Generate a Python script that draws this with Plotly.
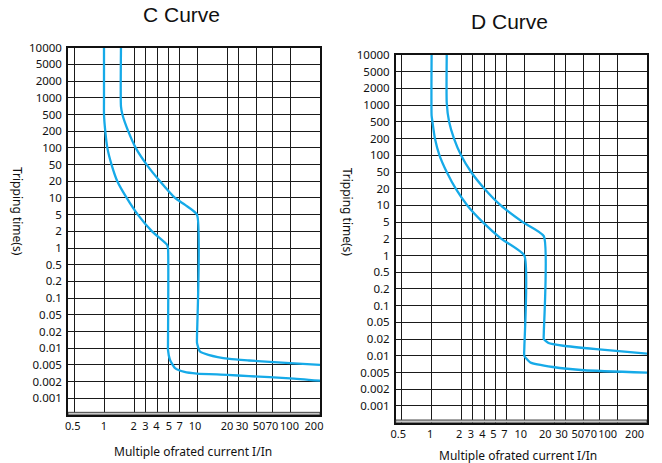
import numpy as np
import plotly.graph_objects as go

# ---- data ----
x_ticks = [0.5, 1, 2, 3, 4, 5, 7, 10, 20, 30, 50, 70, 100, 200]
x_tick_labels = ["0.5", "1", "2", "3", "4", "5", "7", "10", "20", "30", "50", "70", "100", "200"]
y_ticks = [10000, 5000, 2000, 1000, 500, 200, 100, 50, 20, 10, 5, 2, 1,
           0.5, 0.2, 0.1, 0.05, 0.02, 0.01, 0.005, 0.002, 0.001]
y_tick_labels = ["10000", "5000", "2000", "1000", "500", "200", "100", "50", "20", "10", "5", "2", "1",
                 "0.5", "0.2", "0.1", "0.05", "0.02", "0.01", "0.005", "0.002", "0.001"]

# C curve - lower limit (left line)
c_low_x = [1.0, 1.0, 1.0, 1.03, 1.08, 1.19, 1.36, 1.69, 2.3, 3.55, 4.9, 5.0,
           5.0, 5.0, 5.3, 6.2, 7.8, 10, 20, 41, 100, 200]
c_low_y = [10000, 1000, 500, 200, 100, 50, 20, 10, 5, 2, 1.15, 1.0,
           0.012, 0.0093, 0.0062, 0.0042, 0.0034, 0.0031, 0.0029, 0.0027, 0.0024, 0.0021]
# C curve - upper limit (right line)
c_up_x = [1.48, 1.48, 1.53, 1.75, 2.13, 3.12, 4.25, 6.2, 7.9, 10,
          10, 10, 10.7, 13, 22, 41, 100, 200]
c_up_y = [10000, 700, 500, 200, 100, 50, 20, 10, 7.5, 5.0,
          0.016, 0.0125, 0.0087, 0.0076, 0.0064, 0.006, 0.0054, 0.005]

# D curve - lower limit (left line)
d_low_x = [1.0, 1.0, 1.02, 1.08, 1.2, 1.42, 1.75, 2.48, 3.84, 6.0, 10,
           10, 10, 11.5, 19.4, 51, 200]
d_low_y = [10000, 650, 500, 200, 100, 50, 20, 10, 5, 2, 1.0,
           0.014, 0.01, 0.0076, 0.0063, 0.0055, 0.005]
# D curve - upper limit (right line)
d_up_x = [1.42, 1.42, 1.5, 1.68, 1.98, 2.85, 4.0, 5.9, 9.7, 15.7,
          15.7, 15.7, 17.5, 27.9, 66, 200]
d_up_y = [10000, 1100, 500, 200, 100, 50, 20, 10, 5, 2.32,
          0.028, 0.02, 0.017, 0.0152, 0.0132, 0.011]

# ---- scale (chart grid is not a true log grid) ----
x_grid_pos = [6, 36, 66, 77, 89, 100, 111, 129, 159, 170, 188, 204, 222, 252]
c_label_pos = [4.7, 35.8, 65.7, 77.5, 88.3, 100.8, 111.7, 127, 159, 174, 191, 204, 221.5, 246]
d_label_pos = [2.5, 34.5, 63.5, 75.5, 87, 98, 109, 125.5, 150, 166.3, 182.6, 195.5, 212.5, 239.5]
y_grid_pos = list(range(len(y_ticks)))


def xmap(v):
    return np.interp(np.log10(np.asarray(v, float)), np.log10(x_ticks), x_grid_pos)


def ymap(v):
    return np.interp(-np.log10(np.asarray(v, float)), -np.log10(y_ticks), y_grid_pos)


BLUE = "#16aae8"
GRID = "#1a1a1a"
YFONT = dict(family="Noto Sans", size=11.5, color="#111")
XFONT = dict(family="Noto Sans", size=11, color="#111")

fig = go.Figure()
for xs, ys, ax in [(c_low_x, c_low_y, "1"), (c_up_x, c_up_y, "1"),
                   (d_low_x, d_low_y, "2"), (d_up_x, d_up_y, "2")]:
    fig.add_trace(go.Scatter(
        x=xmap(xs), y=ymap(ys), mode="lines",
        line=dict(color=BLUE, width=2.3, shape="spline", smoothing=0.5),
        xaxis="x" if ax == "1" else "x2", yaxis="y" if ax == "1" else "y2",
        showlegend=False, hoverinfo="skip"))


def make_xax(label_pos):
    return dict(range=[0, 252], tickmode="array", tickvals=label_pos, ticktext=x_tick_labels,
                showgrid=False, zeroline=False,
                minor=dict(tickmode="array", tickvals=x_grid_pos, showgrid=True,
                           gridcolor=GRID, gridwidth=1.3, ticks=""),
                showline=True, linecolor="#111", linewidth=1.5, mirror=True,
                ticks="", tickfont=XFONT, tickangle=0, automargin=False, fixedrange=True)


yax = dict(range=[22, 0], tickvals=y_grid_pos, ticktext=y_tick_labels,
           showgrid=True, gridcolor=GRID, gridwidth=1.3, zeroline=False,
           showline=True, linecolor="#111", linewidth=1.5, mirror=True,
           ticks="", tickfont=YFONT, ticklabelstandoff=2, automargin=False, fixedrange=True)

fig.update_layout(
    width=662, height=463,
    margin=dict(l=0, r=0, t=0, b=0, autoexpand=False),
    paper_bgcolor="white", plot_bgcolor="white",
    xaxis=dict(make_xax(c_label_pos), domain=[68 / 662, 320 / 662], anchor="y"),
    yaxis=dict(yax, domain=[1 - 415 / 463, 1 - 47.7 / 463], anchor="x"),
    xaxis2=dict(make_xax(d_label_pos), domain=[395.7 / 662, 647 / 662], anchor="y2"),
    yaxis2=dict(yax, domain=[1 - 422.7 / 463, 1 - 55 / 463], anchor="x2"),
)

# bottom double edge of each grid
for xr, yr in [("x", "y"), ("x2", "y2")]:
    fig.add_shape(type="rect", xref=xr, yref=yr, x0=0, x1=252, y0=21.84, y1=22,
                  fillcolor="#c8c8c8", line=dict(color="#444", width=1), layer="above")

ann = []
ann.append(dict(text="C Curve", x=181.7 / 662, y=1 - 15 / 463, xref="paper", yref="paper",
                showarrow=False, font=dict(family="Liberation Sans", size=21, color="#111"),
                xanchor="center", yanchor="middle"))
ann.append(dict(text="D Curve", x=509 / 662, y=1 - 21.7 / 463, xref="paper", yref="paper",
                showarrow=False, font=dict(family="Liberation Sans", size=21, color="#111"),
                xanchor="center", yanchor="middle"))
for xc, yc in [(193, 451.7), (518, 455)]:
    ann.append(dict(text="Multiple ofrated current I/In", x=xc / 662, y=1 - yc / 463,
                    xref="paper", yref="paper", showarrow=False,
                    font=dict(family="Noto Sans", size=12, color="#111"),
                    xanchor="center", yanchor="middle"))
for xc, yc in [(18, 211), (348.3, 212)]:
    ann.append(dict(text="Tripping time(s)", x=xc / 662, y=1 - yc / 463,
                    xref="paper", yref="paper", showarrow=False, textangle=90,
                    font=dict(family="Noto Sans", size=12, color="#111"),
                    xanchor="center", yanchor="middle"))
fig.update_layout(annotations=ann)

fig.write_html("out.html", config={"displayModeBar": False},
               post_script="document.body.style.margin='0';")
